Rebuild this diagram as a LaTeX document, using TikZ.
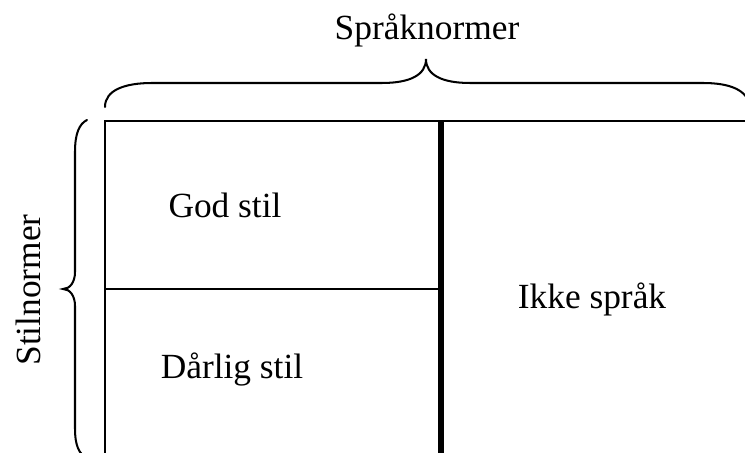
\documentclass[tikz,border=0pt]{standalone}
\usepackage{fontspec}
\setmainfont{Liberation Serif}
\begin{document}
\begin{tikzpicture}[x=0.345pt,y=-0.345pt]

\tikzstyle{tekst}=[inner sep=0,font=\fontsize{12.2}{14}\selectfont]
\tikzstyle{strek}=[line width=0.7pt]
\tikzstyle{klamme}=[line width=0.7pt,line cap=round]

\useasboundingbox (0,0) rectangle (745,453);

% ramme
\draw[strek] (105,460) -- (105,121) -- (750,121);
\draw[strek] (105,289) -- (441,289);
\draw[line width=2pt] (441,121) -- (441,460);

% klammer
\draw[klamme] (105,107) .. controls (105,90) and (125,83) .. (152,83) -- (382,83)
    .. controls (410,83) and (426,75) .. (426,59)
    .. controls (426,75) and (442,83) .. (470,83) -- (703,83)
    .. controls (730,83) and (748,90) .. (750,107);
\draw[klamme] (87,120) .. controls (79,124) and (75,134) .. (75,152) -- (75,272)
    .. controls (75,282) and (70,289) .. (63,289)
    .. controls (70,289) and (75,296) .. (75,306) -- (75,428)
    .. controls (75,446) and (79,454) .. (87,458);

% tekster
\node[tekst] (sprak) at (427,30) {Språknormer};
\node[tekst,rotate=90] (stil) at (28,290) {Stilnormer};
\node[tekst] (god) at (225,205) {God stil};
\node[tekst] (darlig) at (232,370) {Dårlig stil};
\node[tekst] (ikke) at (592,299) {Ikke språk};

\end{tikzpicture}
\end{document}
